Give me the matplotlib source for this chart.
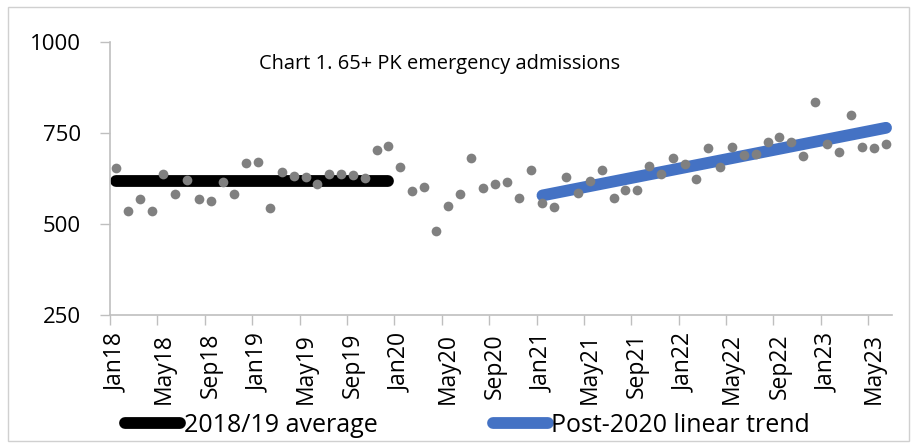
import numpy as np
import matplotlib

matplotlib.use("Agg")
import matplotlib.pyplot as plt
from matplotlib.patches import Rectangle

plt.rcParams["font.family"] = ["Open Sans", "DejaVu Sans"]

# monthly 65+ PK emergency admissions, Jan 2018 - Jun 2023
admissions = [
    654, 536, 568, 536, 637, 581, 619, 567, 563, 616, 582, 666,   # 2018
    671, 544, 643, 632, 629, 609, 637, 637, 635, 626, 703, 715,   # 2019
    657, 591, 600, 480, 550, 582, 681, 598, 608, 616, 570, 648,   # 2020
    557, 547, 629, 584, 618, 649, 570, 593, 592, 660, 638, 682,   # 2021
    664, 623, 707, 655, 710, 689, 691, 724, 738, 726, 686, 834,   # 2022
    720, 697, 800, 712, 709, 719,                                 # 2023
]
tick_labels = ["Jan18", "May18", "Sep18", "Jan19", "May19", "Sep19",
               "Jan20", "May20", "Sep20", "Jan21", "May21", "Sep21",
               "Jan22", "May22", "Sep22", "Jan23", "May23"]
AVG_START, AVG_END = 0, 24      # 2018/19
TREND_START = 36                # Jan21 onwards

C_DOT = "#808080"
C_AVG = "#000000"
C_TREND = "#4472C4"
C_AXIS = "#BFBFBF"

y = np.array(admissions, dtype=float)
x = np.arange(len(y))

fig = plt.figure(figsize=(9.17, 4.48), dpi=100)
ax = fig.add_axes([0.12, 0.297, 0.8527, 0.61])

# 2018/19 average
avg = y[AVG_START:AVG_END].mean()
xa = x[AVG_START:AVG_END]
ax.plot(xa, np.full(len(xa), avg), color=C_AVG, lw=8.5,
        solid_capstyle="round", zorder=2, label="2018/19 average")

# post-2020 linear trend
xt = x[TREND_START:]
k, b = np.polyfit(xt, y[TREND_START:], 1)
ax.plot(xt, k * xt + b, color=C_TREND, lw=8.5,
        solid_capstyle="round", zorder=2, label="Post-2020 linear trend")

ax.plot(x, y, "o", color=C_DOT, ms=7, mec="none", zorder=3)

ax.set_xlim(-0.5, len(y) - 0.5)
ax.set_ylim(250, 1000)
ax.set_yticks([250, 500, 750, 1000])
ax.tick_params(axis="y", labelsize=16, length=7, color=C_AXIS, width=1, pad=14)

# labels at category centres, tick marks at category boundaries
ax.set_xticks(x[::4])
ax.set_xticklabels(tick_labels, rotation=90, fontsize=16.5)
ax.tick_params(axis="x", which="major", length=0, pad=13)
ax.set_xticks(np.arange(-0.5, len(y), 4), minor=True)
ax.tick_params(axis="x", which="minor", length=7, color=C_AXIS, width=1)

for s in ["top", "right"]:
    ax.spines[s].set_visible(False)
for s in ["left", "bottom"]:
    ax.spines[s].set_color(C_AXIS)
    ax.spines[s].set_linewidth(1.2)

ax.text(0.422, 0.92, "Chart 1. 65+ PK emergency admissions", transform=ax.transAxes,
        ha="center", va="center", fontsize=14.4)

fig.legend(loc="center", bbox_to_anchor=(0.51, 0.051), ncol=2, frameon=False,
           handlelength=2.2, handletextpad=0.15, columnspacing=4.6,
           prop={"size": 18})

# chart area border
fig.add_artist(Rectangle((0.009, 0.016), 0.982, 0.968, transform=fig.transFigure,
                         fill=False, edgecolor="#D0D0D0", lw=1))

fig.savefig("out.png", dpi=100)
